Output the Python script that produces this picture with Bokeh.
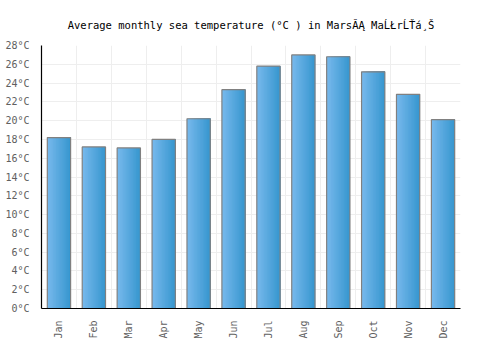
from bokeh.plotting import figure
from bokeh.models import ColumnDataSource, FixedTicker, Range1d, Title
from bokeh.transform import dodge
from bokeh.embed import file_html
from bokeh.resources import INLINE

months = ["Jan", "Feb", "Mar", "Apr", "May", "Jun", "Jul", "Aug", "Sep", "Oct", "Nov", "Dec"]
temps = [18.2, 17.2, 17.1, 18.0, 20.2, 23.3, 25.8, 27.0, 26.8, 25.2, 22.8, 20.1]
y_ticks = list(range(0, 29, 2))
y_labels = {t: f"{t}°C" for t in y_ticks}
title_text = "Average monthly sea temperature (°C ) in MarsĂĄ MaĹŁrĹŤá¸Š"

FONT = "DejaVu Sans Mono"

xs = [i + 0.5 for i in range(len(months))]
src = ColumnDataSource(dict(x=xs, temp=temps, month=months))

p = figure(width=500, height=350, output_backend="svg", toolbar_location=None,
           x_range=Range1d(0, 12), y_range=Range1d(0, 28),
           min_border_left=41, min_border_right=40, min_border_top=45, min_border_bottom=42)
p.title = None
p.add_layout(Title(text=title_text, align="center", text_font=FONT, text_font_size="10.5px",
                   text_font_style="normal", text_color="#000000", standoff=30), "above")

p.outline_line_color = None
p.background_fill_color = "white"
p.border_fill_color = "white"

# gradient bars made of overlapping slices (each runs to the bar's right edge)
bar_w = 0.667
n = 16
c0 = (0x76, 0xb8, 0xec)
c1 = (0x38, 0x97, 0xcf)
sw = bar_w / n
for i in range(n):
    t = i / (n - 1)
    col = "#%02x%02x%02x" % tuple(int(round(a + (b - a) * t)) for a, b in zip(c0, c1))
    w = bar_w - sw * i
    off = bar_w / 2 - w / 2
    p.vbar(x=dodge("x", off), top="temp", width=w, bottom=0, source=src,
           fill_color=col, line_color=None)
p.vbar(x="x", top="temp", width=bar_w, bottom=0, source=src,
       fill_alpha=0, line_color="#808080", line_width=1.2)

p.xaxis.ticker = FixedTicker(ticks=xs)
p.xaxis.major_label_overrides = {x: m for x, m in zip(xs, months)}
p.xaxis.major_label_orientation = 1.5708
p.yaxis.ticker = FixedTicker(ticks=y_ticks)
p.yaxis.major_label_overrides = y_labels

for ax in (p.xaxis, p.yaxis):
    ax.axis_line_color = "black"
    ax.axis_line_width = 1.2
    ax.major_tick_line_color = None
    ax.minor_tick_line_color = None
    ax.major_label_text_font = FONT
    ax.major_label_text_font_size = "10px"
    ax.major_label_text_color = "#606060"
    ax.major_label_standoff = 6

p.xgrid.ticker = FixedTicker(ticks=list(range(0, 13)))
p.ygrid.ticker = FixedTicker(ticks=y_ticks)
p.xgrid.grid_line_color = "#eeeeee"
p.ygrid.grid_line_color = "#eeeeee"

open("out.html", "w").write(file_html(p, INLINE))
